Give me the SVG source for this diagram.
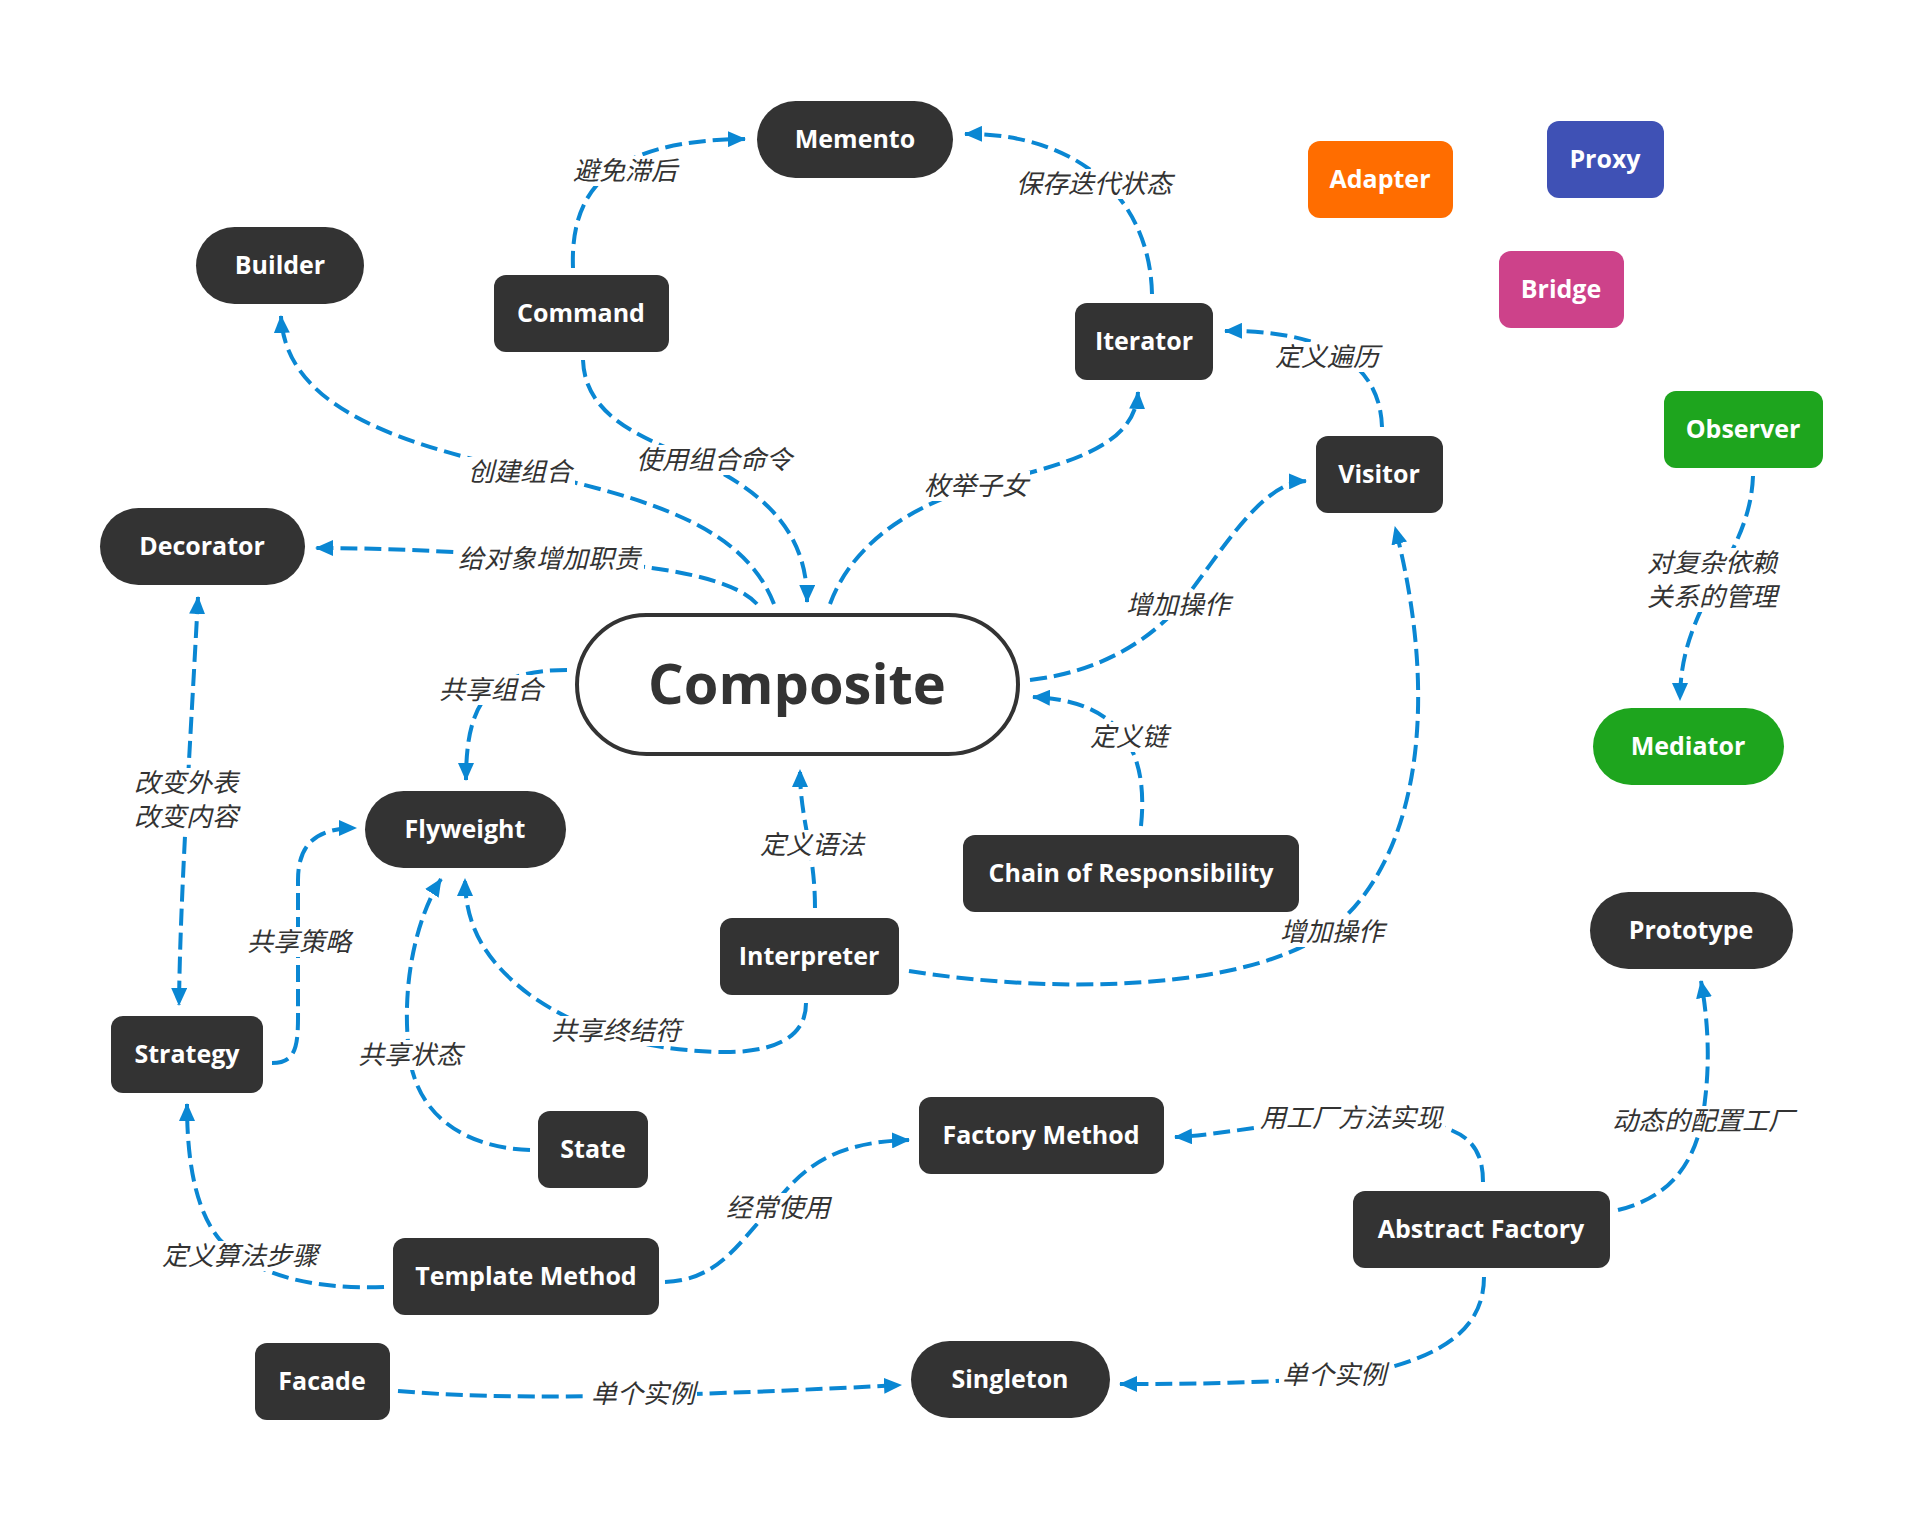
<svg xmlns="http://www.w3.org/2000/svg" width="1924" height="1522" viewBox="0 0 1924 1522">
<style>
.n{fill:#333333}
.nt{font-family:"Open Sans","Liberation Sans",sans-serif;font-weight:700;font-size:25px;fill:#ffffff;text-anchor:middle}
.c{fill:none;stroke:#0a87d3;stroke-width:4;stroke-dasharray:17 7;marker-end:url(#ah)}
.lb{fill:#ffffff}
.lt{font-family:"Noto Sans CJK SC",sans-serif;font-style:italic;font-size:26px;fill:#333333;text-anchor:middle}
</style>
<defs>
<marker id="ah" markerUnits="userSpaceOnUse" markerWidth="18" markerHeight="16" refX="17" refY="8" orient="auto-start-reverse">
<path d="M0,0 L18,8 L0,16 z" fill="#0a87d3"/>
</marker>
</defs>
<rect width="1924" height="1522" fill="#ffffff"/>
<g id="connectors">
<path class="c" d="M573,268 C570,190 610,140 745,139"/>
<path class="c" d="M1152,294 C1150,200 1080,133 965,134"/>
<path class="c" d="M1382,427 C1380,360 1320,330 1225,331"/>
<path class="c" d="M774,604 C745,530 660,500 520,470 C380,440 285,400 281,316"/>
<path class="c" d="M757,604 C730,575 650,565 549,558 C450,551 380,548 316,548"/>
<path class="c" d="M583,360 C585,420 650,440 700,462 C760,490 808,530 807,602"/>
<path class="c" d="M830,604 C850,550 900,510 975,487 C1060,465 1135,450 1138,392"/>
<path class="c" d="M1030,680 C1100,672 1150,640 1180,605 C1220,555 1260,482 1306,481"/>
<path class="c" d="M1141,826 C1150,740 1110,700 1033,697"/>
<path class="c" d="M815,908 C815,850 800,820 800,770"/>
<path class="c" d="M909,971 C1060,995 1250,990 1330,930 C1420,860 1440,700 1395,527"/>
<path class="c" d="M567,670 C490,670 466,700 466,780"/>
<path class="c" d="M272,1063 C300,1063 298,1040 298,1000 L298,880 C298,845 315,828 356,828"/>
<path class="c" style="marker-start:url(#ah)" d="M198,597 C190,750 180,900 179,1005"/>
<path class="c" d="M530,1150 C470,1148 420,1120 410,1060 C400,990 415,920 441,879"/>
<path class="c" d="M806,1003 C806,1040 770,1053 720,1052 C640,1050 580,1030 530,995 C490,965 465,930 465,879"/>
<path class="c" d="M384,1287 C300,1290 250,1270 220,1240 C195,1210 187,1160 187,1104"/>
<path class="c" d="M665,1282 C720,1280 740,1240 770,1210 C800,1170 830,1142 909,1140"/>
<path class="c" d="M1483,1182 C1483,1140 1460,1125 1400,1120 C1300,1115 1230,1135 1175,1137"/>
<path class="c" d="M1618,1210 C1680,1195 1700,1150 1705,1100 C1710,1060 1708,1020 1701,981"/>
<path class="c" d="M1484,1277 C1484,1330 1440,1355 1380,1370 C1320,1383 1200,1384 1120,1384"/>
<path class="c" d="M398,1391 C500,1400 650,1398 901,1385"/>
<path class="c" d="M1753,476 C1750,560 1680,600 1680,700"/>
<g id="labels">
<rect class="lb" x="571" y="156" width="108" height="30"/><text class="lt" x="625" y="180">避免滞后</text>
<rect class="lb" x="1014" y="169" width="160" height="30"/><text class="lt" x="1094" y="193">保存迭代状态</text>
<rect class="lb" x="1271" y="342" width="112" height="30"/><text class="lt" x="1327" y="366">定义遍历</text>
<rect class="lb" x="465" y="457" width="110" height="30"/><text class="lt" x="520" y="481">创建组合</text>
<rect class="lb" x="455" y="544" width="189" height="30"/><text class="lt" x="549" y="568">给对象增加职责</text>
<rect class="lb" x="635" y="445" width="159" height="30"/><text class="lt" x="714" y="469">使用组合命令</text>
<rect class="lb" x="922" y="471" width="108" height="30"/><text class="lt" x="976" y="495">枚举子女</text>
<rect class="lb" x="1124" y="590" width="108" height="30"/><text class="lt" x="1178" y="614">增加操作</text>
<rect class="lb" x="1087" y="722" width="84" height="30"/><text class="lt" x="1129" y="746">定义链</text>
<rect class="lb" x="758" y="830" width="108" height="30"/><text class="lt" x="812" y="854">定义语法</text>
<rect class="lb" x="1278" y="917" width="108" height="30"/><text class="lt" x="1332" y="941">增加操作</text>
<rect class="lb" x="437" y="675" width="108" height="30"/><text class="lt" x="491" y="699">共享组合</text>
<rect class="lb" x="245" y="927" width="108" height="30"/><text class="lt" x="299" y="951">共享策略</text>
<rect class="lb" x="132" y="768" width="108" height="64"/><text class="lt" x="186" y="792">改变外表</text><text class="lt" x="186" y="826">改变内容</text>
<rect class="lb" x="355" y="1040" width="110" height="30"/><text class="lt" x="410" y="1064">共享状态</text>
<rect class="lb" x="549" y="1016" width="135" height="30"/><text class="lt" x="616" y="1040">共享终结符</text>
<rect class="lb" x="159" y="1241" width="162" height="30"/><text class="lt" x="240" y="1265">定义算法步骤</text>
<rect class="lb" x="723" y="1193" width="111" height="30"/><text class="lt" x="778" y="1217">经常使用</text>
<rect class="lb" x="1258" y="1103" width="187" height="30"/><text class="lt" x="1351" y="1127">用工厂方法实现</text>
<rect class="lb" x="1610" y="1106" width="187" height="30"/><text class="lt" x="1703" y="1130">动态的配置工厂</text>
<rect class="lb" x="1279" y="1360" width="111" height="30"/><text class="lt" x="1334" y="1384">单个实例</text>
<rect class="lb" x="589" y="1379" width="108" height="30"/><text class="lt" x="643" y="1403">单个实例</text>
<rect class="lb" x="1644" y="548" width="137" height="64"/><text class="lt" x="1712" y="572">对复杂依赖</text><text class="lt" x="1712" y="606">关系的管理</text>
</g>
</g>
<g id="memento"><rect class="n" x="757" y="101" width="196" height="77" rx="38.5"/><text class="nt" x="855" y="148">Memento</text></g>
<g id="builder"><rect class="n" x="196" y="227" width="168" height="77" rx="38.5"/><text class="nt" x="280" y="274">Builder</text></g>
<g id="command"><rect class="n" x="494" y="275" width="175" height="77" rx="12"/><text class="nt" x="581" y="322">Command</text></g>
<g id="iterator"><rect class="n" x="1075" y="303" width="138" height="77" rx="12"/><text class="nt" x="1144" y="350">Iterator</text></g>
<g id="adapter"><rect x="1308" y="141" width="145" height="77" rx="12" fill="#ff6d00"/><text class="nt" x="1380" y="188">Adapter</text></g>
<g id="proxy"><rect x="1547" y="121" width="117" height="77" rx="12" fill="#3f51b5"/><text class="nt" x="1605" y="168">Proxy</text></g>
<g id="bridge"><rect x="1499" y="251" width="125" height="77" rx="12" fill="#cd428a"/><text class="nt" x="1561" y="298">Bridge</text></g>
<g id="observer"><rect x="1664" y="391" width="159" height="77" rx="12" fill="#1ea51e"/><text class="nt" x="1743" y="438">Observer</text></g>
<g id="visitor"><rect class="n" x="1316" y="436" width="127" height="77" rx="12"/><text class="nt" x="1379" y="483">Visitor</text></g>
<g id="decorator"><rect class="n" x="100" y="508" width="205" height="77" rx="38.5"/><text class="nt" x="202" y="555">Decorator</text></g>
<g id="composite"><rect x="577" y="615" width="441" height="139" rx="69.5" fill="#ffffff" stroke="#333333" stroke-width="4"/><text x="797" y="704" font-family="'Open Sans','Liberation Sans',sans-serif" font-weight="700" font-size="56" fill="#333333" text-anchor="middle">Composite</text></g>
<g id="flyweight"><rect class="n" x="365" y="791" width="201" height="77" rx="38.5"/><text class="nt" x="465" y="838">Flyweight</text></g>
<g id="mediator"><rect x="1593" y="708" width="191" height="77" rx="38.5" fill="#1ea51e"/><text class="nt" x="1688" y="755">Mediator</text></g>
<g id="chain"><rect class="n" x="963" y="835" width="336" height="77" rx="12"/><text class="nt" x="1131" y="882">Chain of Responsibility</text></g>
<g id="prototype"><rect class="n" x="1590" y="892" width="203" height="77" rx="38.5"/><text class="nt" x="1691" y="939">Prototype</text></g>
<g id="interpreter"><rect class="n" x="720" y="918" width="179" height="77" rx="12"/><text class="nt" x="809" y="965">Interpreter</text></g>
<g id="strategy"><rect class="n" x="111" y="1016" width="152" height="77" rx="12"/><text class="nt" x="187" y="1063">Strategy</text></g>
<g id="state"><rect class="n" x="538" y="1111" width="110" height="77" rx="12"/><text class="nt" x="593" y="1158">State</text></g>
<g id="factory-method"><rect class="n" x="919" y="1097" width="245" height="77" rx="12"/><text class="nt" x="1041" y="1144">Factory Method</text></g>
<g id="abstract-factory"><rect class="n" x="1353" y="1191" width="257" height="77" rx="12"/><text class="nt" x="1481" y="1238">Abstract Factory</text></g>
<g id="template-method"><rect class="n" x="393" y="1238" width="266" height="77" rx="12"/><text class="nt" x="526" y="1285">Template Method</text></g>
<g id="facade"><rect class="n" x="255" y="1343" width="135" height="77" rx="12"/><text class="nt" x="322" y="1390">Facade</text></g>
<g id="singleton"><rect class="n" x="911" y="1341" width="199" height="77" rx="38.5"/><text class="nt" x="1010" y="1388">Singleton</text></g>
</svg>
